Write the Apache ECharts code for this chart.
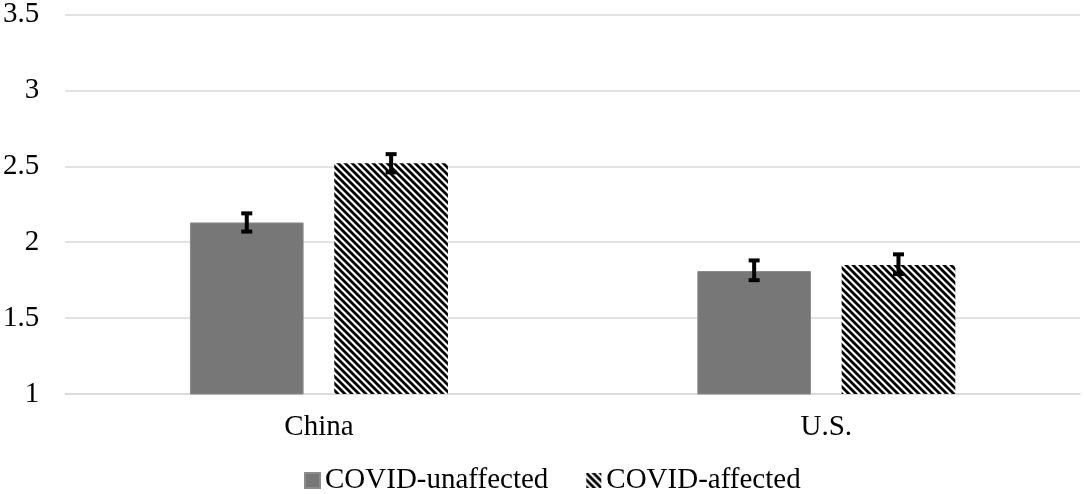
<!DOCTYPE html>
<html>
<head>
<meta charset="utf-8">
<style>
  html, body { margin: 0; padding: 0; background: #fff; }
  #chart1 { width: 1084px; height: 494px; }
</style>
<script src="https://cdn.jsdelivr.net/npm/echarts@6/dist/echarts.min.js"></script>
</head>
<body>
<div id="chart1"></div>
<script>
var categories = ['China', 'U.S.'];
var seriesNames = ['COVID-unaffected', 'COVID-affected'];
var unaffectedMean = [2.13, 1.81];
var unaffectedLow = [2.07, 1.75];
var unaffectedHigh = [2.19, 1.88];
var affectedMean = [2.52, 1.85];
var affectedLow = [2.46, 1.79];
var affectedHigh = [2.58, 1.92];

var BAR_W = 0.224;   // share of category band
var BAR_GAP = 0.27;  // share of bar width

// black "\" hatch tile
function hatchPattern() {
    var c = document.createElement('canvas');
    var s = 7;
    c.width = s;
    c.height = s;
    var ctx = c.getContext('2d');
    ctx.fillStyle = '#fff';
    ctx.fillRect(0, 0, s, s);
    ctx.strokeStyle = '#000';
    ctx.lineWidth = 2.8;
    ctx.beginPath();
    ctx.moveTo(-s, 0); ctx.lineTo(s, 2 * s);
    ctx.moveTo(0, -s); ctx.lineTo(2 * s, s);
    ctx.moveTo(-s, -s); ctx.lineTo(2 * s, 2 * s);
    ctx.stroke();
    return c;
}

function errorData(low, high) {
    var out = [];
    for (var i = 0; i < categories.length; i++) {
        out.push([i, low[i], high[i]]);
    }
    return out;
}

function errorSeries(low, high, side) {
    return {
        type: 'custom',
        name: 'err' + side,
        z: 10,
        silent: true,
        encode: { x: 0, y: [1, 2] },
        data: errorData(low, high),
        renderItem: function (params, api) {
            var band = api.size([1, 0])[0];
            var bw = band * BAR_W;
            var off = side * (bw + bw * BAR_GAP) / 2;
            var top = api.coord([api.value(0), api.value(2)]);
            var bot = api.coord([api.value(0), api.value(1)]);
            var x = top[0] + off;
            var cap = 5.5;
            var st = { stroke: '#000', lineWidth: 4 };
            return {
                type: 'group',
                children: [
                    { type: 'line', shape: { x1: x, y1: top[1], x2: x, y2: bot[1] }, style: st },
                    { type: 'line', shape: { x1: x - cap, y1: top[1], x2: x + cap, y2: top[1] }, style: st },
                    { type: 'line', shape: { x1: x - cap, y1: bot[1], x2: x + cap, y2: bot[1] }, style: st }
                ]
            };
        }
    };
}

var myChart1 = echarts.init(document.getElementById('chart1'));
var font = '"Liberation Serif", "Times New Roman", serif';

var option = {
    animation: false,
    textStyle: { fontFamily: font },
    grid: { left: 63, right: 4, top: 13, bottom: 100, containLabel: false },
    legend: {
        data: seriesNames,
        top: 461,
        left: 299,
        icon: 'rect',
        itemWidth: 15,
        itemHeight: 15,
        itemGap: 38,
        textStyle: { fontFamily: font, fontSize: 29, color: '#000' }
    },
    xAxis: {
        type: 'category',
        data: categories,
        axisLine: { lineStyle: { color: '#d9d9d9', width: 1.5 } },
        axisTick: { show: false },
        axisLabel: { fontFamily: font, fontSize: 29, color: '#000', margin: 19 }
    },
    yAxis: {
        type: 'value',
        min: 1,
        max: 3.5,
        interval: 0.5,
        axisLine: { show: false },
        axisTick: { show: false },
        splitLine: { lineStyle: { color: '#d9d9d9', width: 1.5 } },
        axisLabel: { fontFamily: font, fontSize: 29, color: '#000', margin: 26 }
    },
    series: [
        {
            name: seriesNames[0],
            type: 'bar',
            barWidth: (BAR_W * 100) + '%',
            barGap: (BAR_GAP * 100) + '%',
            itemStyle: { color: '#777777', borderColor: '#8c8c8c', borderWidth: 1 },
            data: unaffectedMean
        },
        {
            name: seriesNames[1],
            type: 'bar',
            barWidth: (BAR_W * 100) + '%',
            barGap: (BAR_GAP * 100) + '%',
            itemStyle: { color: { image: hatchPattern(), repeat: 'repeat' } },
            data: affectedMean
        },
        errorSeries(unaffectedLow, unaffectedHigh, -1),
        errorSeries(affectedLow, affectedHigh, 1)
    ]
};
myChart1.setOption(option);
</script>
</body>
</html>
